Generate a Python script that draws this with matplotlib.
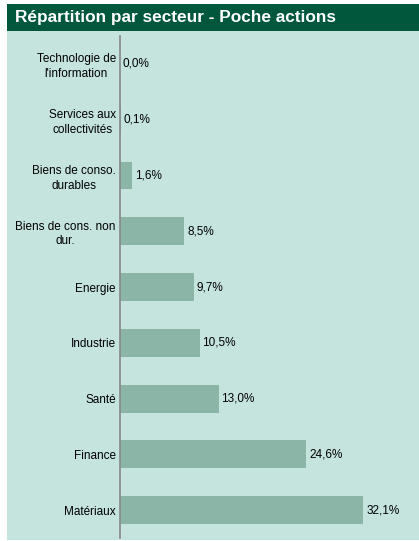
import matplotlib.pyplot as plt
from matplotlib.patches import Rectangle

plt.rcParams['font.family'] = ['Liberation Sans', 'DejaVu Sans']

sectors = ["Technologie de\nl'information", "Services aux\ncollectivités",
           "Biens de conso.\ndurables", "Biens de cons. non\ndur.", "Energie",
           "Industrie", "Santé", "Finance", "Matériaux"]
weights = [0.0, 0.1, 1.6, 8.5, 9.7, 10.5, 13.0, 24.6, 32.1]
title = "Répartition par secteur - Poche actions"

W, H = 419, 541
fig = plt.figure(figsize=(W / 100, H / 100), dpi=100)
fig.patch.set_facecolor('white')

# panel + header band (figure pixels)
fig.patches.append(Rectangle((7 / W, 1 - 540 / H), 412 / W, 509 / H,
                             transform=fig.transFigure, facecolor='#c5e4de',
                             edgecolor='none', zorder=-2))
fig.patches.append(Rectangle((7 / W, 1 - 31 / H), 412 / W, 27 / H,
                             transform=fig.transFigure, facecolor='#00573c',
                             edgecolor='none', zorder=-2))
fig.text(15 / W, 1 - 17.5 / H, title, color='white', fontsize=12.4,
         fontweight='bold', va='center', ha='left')

ax = fig.add_axes([120 / W, 3 / H, 299 / W, 502 / H])
ax.patch.set_alpha(0)

y = list(range(len(sectors)))
ax.barh(y, weights, height=0.5, color='#8bb5a6')
ax.set_ylim(len(sectors) - 0.5, -0.5)
ax.set_xlim(0, 299 / 7.58)
ax.set_yticks(y)
ax.set_yticklabels(sectors, fontsize=8.5, linespacing=1.3,
                   multialignment='center')
ax.tick_params(axis='y', length=0, pad=3)
ax.set_xticks([])
for s in ['top', 'right', 'bottom']:
    ax.spines[s].set_visible(False)
ax.spines['left'].set_color('#888888')
ax.spines['left'].set_linewidth(1.2)

for yi, v in zip(y, weights):
    ax.annotate(f"{v:.1f}".replace('.', ',') + '%', (v, yi),
                xytext=(2, 0), textcoords='offset points',
                va='center', ha='left', fontsize=8.5)

fig.savefig('out.png', dpi=100)
